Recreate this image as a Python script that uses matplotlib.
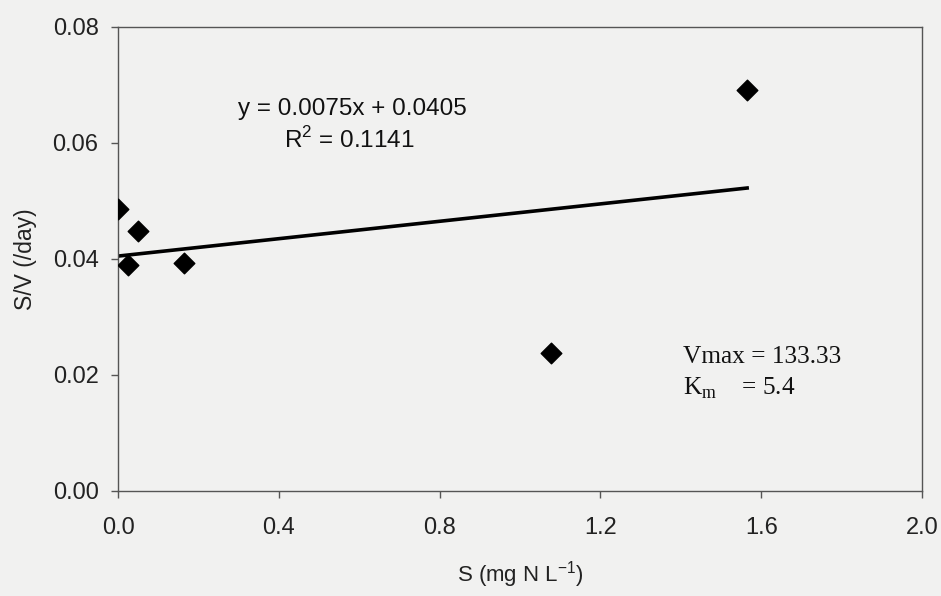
import numpy as np
import matplotlib.pyplot as plt

# data
S = [0.0, 0.025, 0.05, 0.165, 1.077, 1.565]
SV = [0.0486, 0.0390, 0.0448, 0.0393, 0.0238, 0.0691]
slope = 0.0075
intercept = 0.0405
xticks = [0.0, 0.4, 0.8, 1.2, 1.6, 2.0]
yticks = [0.00, 0.02, 0.04, 0.06, 0.08]

plt.rcParams['mathtext.fontset'] = 'custom'
plt.rcParams['mathtext.rm'] = 'Liberation Serif'
plt.rcParams['mathtext.sf'] = 'Liberation Sans'

bg = '#f1f1f0'
fig = plt.figure(figsize=(9.41, 5.96), dpi=100, facecolor=bg)
ax = fig.add_axes([0.1254, 0.1762, 0.8544, 0.7785], facecolor=bg)

ax.scatter(S, SV, marker='D', s=110, color='black', zorder=3)
xl = np.array([0.0, max(S)])
ax.plot(xl, slope * xl + intercept, color='black', lw=2.6)

ax.set_xlim(0, 2.0)
ax.set_ylim(0, 0.08)
ax.set_xticks(xticks)
ax.set_xticklabels(['%.1f' % v for v in xticks])
ax.set_yticks(yticks)
ax.set_yticklabels(['%.2f' % v for v in yticks])

sans = 'Liberation Sans'
serif = 'Liberation Serif'
for lab in ax.get_xticklabels() + ax.get_yticklabels():
    lab.set_family(sans)
    lab.set_fontsize(17)
    lab.set_color('#222222')
ax.tick_params(direction='out', length=5, width=1, color='#555555')
ax.tick_params(axis='y', pad=9)
ax.tick_params(axis='x', pad=14)
for sp in ax.spines.values():
    sp.set_color('#555555')
    sp.set_linewidth(1)

ax.set_xlabel('S (mg N L$^{\\mathsf{-1}}$)', family=sans, fontsize=16, color='#222222', labelpad=14)
ax.set_ylabel('S/V (/day)', family=sans, fontsize=16.5, color='#222222', labelpad=11)

ax.text(0.583, 0.0648, 'y = 0.0075x + 0.0405', family=sans, fontsize=17.5,
        ha='center', va='baseline', color='#111111')
ax.text(0.575, 0.0591, 'R$^{\\mathsf{2}}$ = 0.1141', family=sans, fontsize=17.5,
        ha='center', va='baseline', color='#111111')
ax.text(1.405, 0.0221, 'Vmax = 133.33', family=serif, fontsize=18.3,
        ha='left', va='baseline', color='#111111')
ax.text(1.405, 0.01655, 'K$_\\mathrm{m}$    = 5.4', family=serif, fontsize=18.3,
        ha='left', va='baseline', color='#111111')

fig.savefig('out.png', dpi=100, facecolor=bg)
